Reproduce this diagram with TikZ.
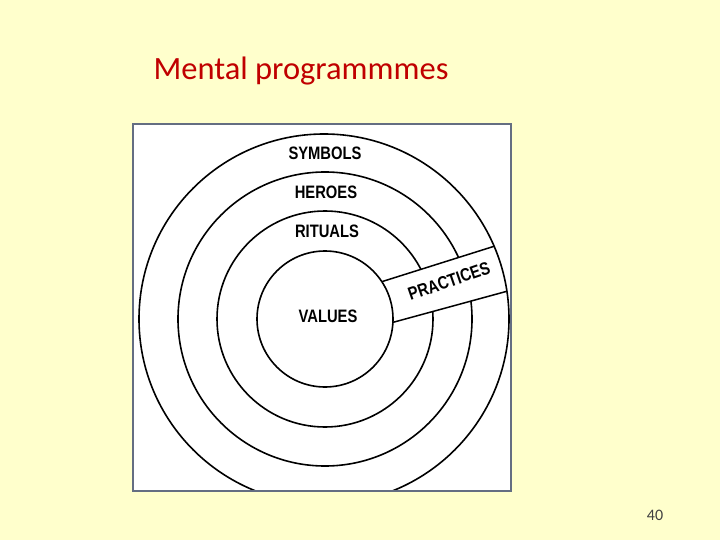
\documentclass[tikz,border=0pt]{standalone}
\usepackage{fontspec}
\setmainfont{Carlito}
\newfontfamily\lblfont[FakeStretch=0.82]{Liberation Sans}
\usetikzlibrary{positioning}
\definecolor{slidebg}{RGB}{255, 255, 204}
\definecolor{titlered}{RGB}{192, 0, 0}
\definecolor{framegray}{RGB}{100, 110, 130}
\definecolor{pagegray}{RGB}{64, 64, 64}

\begin{document}
\begin{tikzpicture}[
      x=1pt, y=-1pt,
      ring/.style={line width=1.6pt, black},
      band/.style={line width=1.5pt, black},
      lbl/.style={font=\lblfont\bfseries\fontsize{18}{21}\selectfont, inner sep=1pt}
    ]
      \useasboundingbox (0,0) rectangle (720,540);
      \fill[slidebg] (0,0) rectangle (720,540);

      % Title and page number
      \node[font=\fontsize{32.5}{38}\selectfont, text=titlered] (title) at (301,71) {Mental programmmes};
      \node[font=\fontsize{16}{18}\selectfont, text=pagegray] (pageno) at (655,515) {40};

      % Scanned figure area
      \fill[white] (133,124) rectangle (511,491);
      \coordinate (ctr) at (325,319);

      \begin{scope}
        \clip (133,124) rectangle (511,491);
        \foreach \r in {147,108} {
          \draw[ring] (ctr) circle (\r pt);
        }
        % Practices band across the outer rings
        \begin{scope}
          \clip (324,319) circle (185pt);
          \fill[white] (370,285.4) -- (515,239.7) -- (520,287.7) -- (380,325.9) -- cycle;
          \draw[band] (370,285.4) -- (515,239.7);
          \draw[band] (380,325.9) -- (520,287.7);
        \end{scope}
        \draw[ring] (324,319) circle (185pt);
        \draw[ring, fill=white] (ctr) circle (68pt);
      \end{scope}
      \draw[framegray, line width=1.2pt] (133,124) rectangle (511,491);

      % Layer labels
      \node[lbl] (symbols) at (325,153) {SYMBOLS};
      \node[lbl] (heroes) at (326,192) {HEROES};
      \node[lbl] (rituals) at (327,231) {RITUALS};
      \node[lbl] (values) at (328,316) {VALUES};
      \node[lbl, rotate=19] (practices) at (449,281) {PRACTICES};
    \end{tikzpicture}
\end{document}
